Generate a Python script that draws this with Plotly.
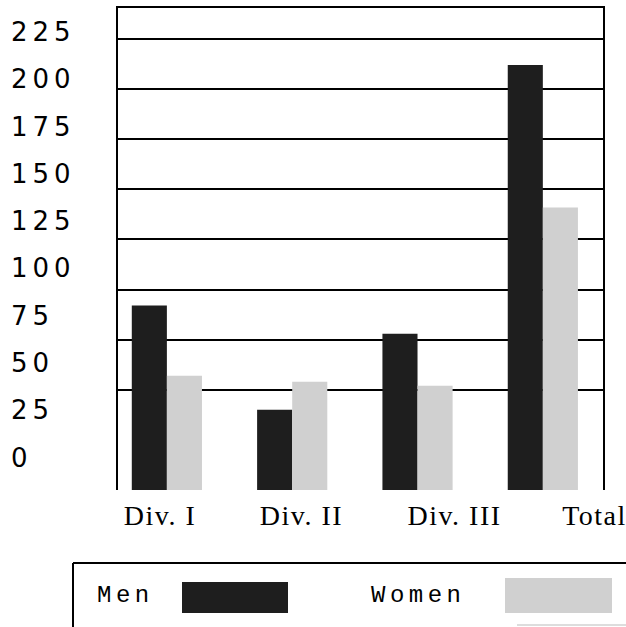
import plotly.graph_objects as go

# Enrollment by division
categories = ["Div. I", "Div. II", "Div. III", "Total"]
men = [92, 40, 78, 212]
women = [57, 54, 52, 141]
y_ticks = [0, 25, 50, 75, 100, 125, 150, 175, 200, 225]
grid_ticks = [50, 75, 100, 125, 150, 175, 200, 225]

MEN_COLOR = "#1e1e1e"
WOMEN_COLOR = "#d0d0d0"

W, H = 626, 627
ML, MR, MT, MB = 0, 23, 8, 137
PW = W - ML - MR
PH = H - MT - MB


def px(x):
    return (x - ML) / PW


def py(y):
    return (H - MB - y) / PH


def spaced(text, ls):
    return f'<span style="letter-spacing:{ls}px">{text}</span>'


fig = go.Figure()
fig.add_trace(go.Bar(x=categories, y=men, name="Men",
                     marker=dict(color=MEN_COLOR, line=dict(width=0))))
fig.add_trace(go.Bar(x=categories, y=women, name="Women",
                     marker=dict(color=WOMEN_COLOR, line=dict(width=0))))
# empty trace so the label axes (x2 / y2) get drawn
fig.add_trace(go.Scatter(x=[], y=[], xaxis="x2", yaxis="y2",
                         showlegend=False, hoverinfo="skip"))

x_range = [-0.39, 3.48]
label_pos = [-0.055, 1.074, 2.295, 3.412]

fig.update_layout(
    width=W, height=H,
    margin=dict(l=ML, r=MR, t=MT, b=MB),
    paper_bgcolor="white", plot_bgcolor="white",
    showlegend=False, hovermode=False,
    barmode="group", bargap=0.44, bargroupgap=0,
    xaxis=dict(type="category", domain=[px(118), 1], range=x_range,
               side="top", showline=True, linecolor="black", linewidth=2,
               showticklabels=False, showgrid=False, ticks=""),
    xaxis2=dict(overlaying="x", anchor="y", type="linear", range=x_range,
                side="bottom", tickvals=label_pos,
                ticktext=[spaced(c, 1.5) for c in categories],
                tickfont=dict(family="Liberation Serif", size=28, color="black"),
                showline=False, showgrid=False, zeroline=False, ticks="",
                ticklabelstandoff=6, ticklabeloverflow="allow"),
    yaxis=dict(range=[0, 240.5], tickvals=grid_ticks, showticklabels=False,
               showgrid=True, gridcolor="black", gridwidth=2,
               showline=True, mirror=True, linecolor="black", linewidth=2,
               zeroline=False, ticks=""),
    yaxis2=dict(overlaying="y", anchor="free", position=0, side="right",
                range=[-17.2, 237.7], tickvals=y_ticks,
                ticktext=[spaced(str(v), 5) for v in y_ticks],
                tickfont=dict(family="DejaVu Sans", size=26, color="black"),
                showgrid=False, showline=False, zeroline=False, ticks="",
                ticklabelstandoff=10),
)

# Legend panel below the plot
line = dict(color="black", width=2)
fig.add_shape(type="line", xref="paper", yref="paper",
              x0=px(73), x1=px(626), y0=py(563), y1=py(563), line=line)
fig.add_shape(type="line", xref="paper", yref="paper",
              x0=px(73), x1=px(73), y0=py(563), y1=py(627), line=line)
fig.add_shape(type="line", xref="paper", yref="paper",
              x0=px(517), x1=px(626), y0=py(625), y1=py(625),
              line=dict(color="#bbbbbb", width=1))
fig.add_shape(type="rect", xref="paper", yref="paper",
              x0=px(182), x1=px(288), y0=py(582), y1=py(613),
              fillcolor=MEN_COLOR, line=dict(width=0))
fig.add_shape(type="rect", xref="paper", yref="paper",
              x0=px(505), x1=px(612), y0=py(578), y1=py(613),
              fillcolor=WOMEN_COLOR, line=dict(width=0))

legend_font = dict(family="Liberation Mono", size=24, color="black")
fig.add_annotation(text=spaced(fig.data[0].name, 4.5), xref="paper", yref="paper",
                   x=px(95), y=py(595), xanchor="left", yanchor="middle",
                   showarrow=False, font=legend_font)
fig.add_annotation(text=spaced(fig.data[1].name, 4.5), xref="paper", yref="paper",
                   x=px(369), y=py(595), xanchor="left", yanchor="middle",
                   showarrow=False, font=legend_font)

fig.write_html("out.html")
